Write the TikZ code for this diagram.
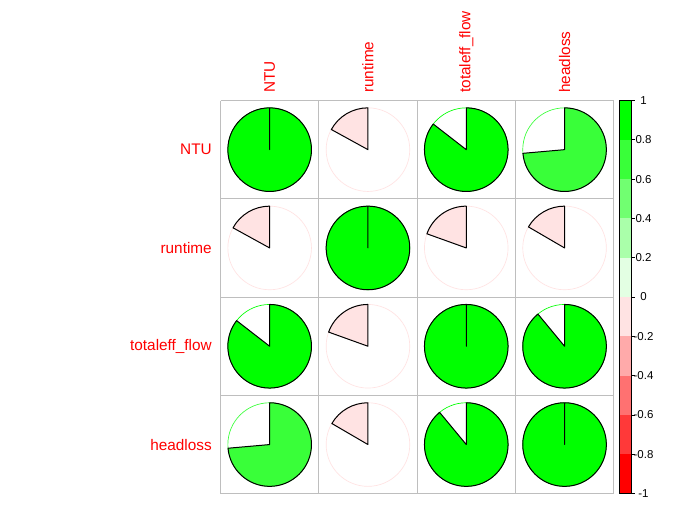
\documentclass[tikz,border=0pt]{standalone}
\usepackage{fontspec}
\setmainfont{Liberation Sans}
\definecolor{cR5}{HTML}{FF0000}
\definecolor{cR4}{HTML}{FF3939}
\definecolor{cR3}{HTML}{FF7171}
\definecolor{cR2}{HTML}{FFAAAA}
\definecolor{cR1}{HTML}{FFE3E3}
\definecolor{cG1}{HTML}{E3FFE3}
\definecolor{cG2}{HTML}{AAFFAA}
\definecolor{cG3}{HTML}{71FF71}
\definecolor{cG4}{HTML}{39FF39}
\definecolor{cG5}{HTML}{00FF00}
\definecolor{gridgray}{HTML}{BEBEBE}
\newcommand\mypie[5]{%
  \coordinate (#1) at (#2,#3);
  \draw[#5, line width=0.5pt] (#1) circle[radius=41.8];
  \pgfmathsetmacro\endang{90-360*#4}
  \draw[black, fill=#5, line width=0.75pt, line join=round] (#1) -- ++(90:41.8) arc[start angle=90, end angle=\endang, radius=41.8] -- cycle;
}
\begin{document}
\begin{tikzpicture}[x=0.75pt,y=0.75pt,
  lab/.style={text=red, font=\fontsize{11.5}{13}\selectfont, inner sep=0pt},
  barlab/.style={text=black, font=\fontsize{8.6}{10}\selectfont, inner sep=0pt}]
\useasboundingbox[fill=white] (0,0) rectangle (673,-528);
% grid
\foreach \k in {0,...,4}{
  \draw[gridgray, line width=0.75pt] ({220.5+98.3*\k},-100.5) -- ({220.5+98.3*\k},-493.7);
  \draw[gridgray, line width=0.75pt] (220.5,{-100.5-98.3*\k}) -- (613.7,{-100.5-98.3*\k});
}
% pies row 1
\mypie{p11}{269.65}{-149.65}{1}{cG5}
\mypie{p12}{367.95}{-149.65}{-0.17}{cR1}
\mypie{p13}{466.25}{-149.65}{0.855}{cG5}
\mypie{p14}{564.55}{-149.65}{0.736}{cG4}
% row 2
\mypie{p21}{269.65}{-247.95}{-0.17}{cR1}
\mypie{p22}{367.95}{-247.95}{1}{cG5}
\mypie{p23}{466.25}{-247.95}{-0.195}{cR1}
\mypie{p24}{564.55}{-247.95}{-0.166}{cR1}
% row 3
\mypie{p31}{269.65}{-346.25}{0.855}{cG5}
\mypie{p32}{367.95}{-346.25}{-0.195}{cR1}
\mypie{p33}{466.25}{-346.25}{1}{cG5}
\mypie{p34}{564.55}{-346.25}{0.89}{cG5}
% row 4
\mypie{p41}{269.65}{-444.55}{0.736}{cG4}
\mypie{p42}{367.95}{-444.55}{-0.166}{cR1}
\mypie{p43}{466.25}{-444.55}{0.89}{cG5}
\mypie{p44}{564.55}{-444.55}{1}{cG5}
% row labels
\node[lab, anchor=east] (r1) at (212,-149.65) {NTU};
\node[lab, anchor=east] (r2) at (212,-247.95) {runtime};
\node[lab, anchor=east] (r3) at (212,-346.25) {totaleff\_flow};
\node[lab, anchor=east] (r4) at (212,-444.55) {headloss};
% column labels
\node[lab, anchor=west, rotate=90] (c1) at (269.65,-93) {NTU};
\node[lab, anchor=west, rotate=90] (c2) at (367.95,-93) {runtime};
\node[lab, anchor=west, rotate=90] (c3) at (466.25,-93) {totaleff\_flow};
\node[lab, anchor=west, rotate=90] (c4) at (564.55,-93) {headloss};
% colour bar
\foreach \c [count=\i from 0] in {cR5,cR4,cR3,cR2,cR1,cG1,cG2,cG3,cG4,cG5}{
  \fill[\c] (619.3,{-493.5+39.3*\i}) rectangle (631.3,{-493.5+39.3*(\i+1)});
}
\draw[black, line width=0.6pt] (619.3,-493.5) rectangle (631.3,-100.5);
\foreach \v [count=\i from 0] in {-1,-0.8,-0.6,-0.4,-0.2,0,0.2,0.4,0.6,0.8,1}{
  \draw[black, line width=0.6pt] (631.3,{-493.5+39.3*\i}) -- (634.5,{-493.5+39.3*\i});
  \node[barlab] (t\i) at (643.5,{-493.5+39.3*\i}) {\v};
}
\end{tikzpicture}
\end{document}
